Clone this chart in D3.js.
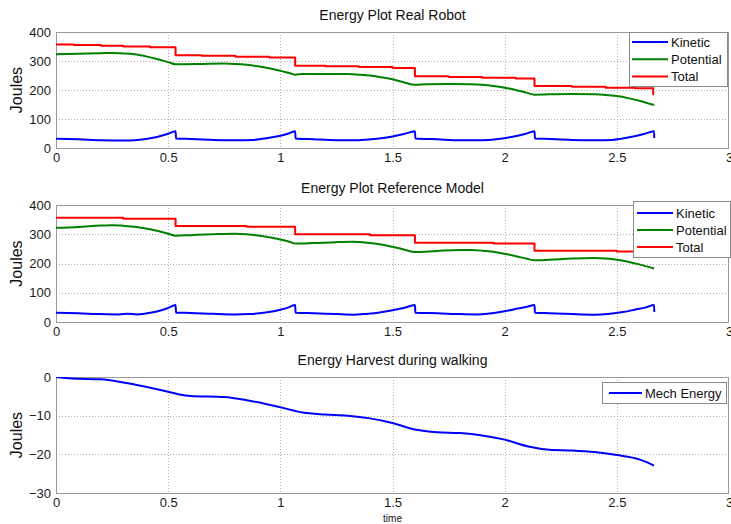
<!DOCTYPE html>
<html><head><meta charset="utf-8">
<script src="https://cdn.jsdelivr.net/npm/d3@7"></script>
<style>body{margin:0;background:#fff}svg{display:block;font-family:Arial,"Liberation Sans",sans-serif}</style>
</head><body><svg id="c" width="731" height="524"></svg>
<script>
// ---- data ----
const xTicks = [0, 0.5, 1, 1.5, 2, 2.5, 3];
const yTicksEnergy = [0, 100, 200, 300, 400];
const yTicksHarvest = [0, -10, -20, -30];
const seriesNames = ["Kinetic", "Potential", "Total"];

const realKineticT = [0,0.1,0.2,0.3,0.35,0.4,0.45,0.5,0.533,0.535,0.6,0.7,0.8,0.88,0.95,1.0,1.04,1.066,1.068,1.15,1.25,1.35,1.42,1.5,1.55,1.6,1.602,1.7,1.8,1.9,1.96,2.03,2.09,2.133,2.135,2.2,2.3,2.4,2.48,2.55,2.62,2.666,2.667];
const realKineticV = [32,30,27,26,27,31,38,49,58,33,31,28,27,28,35,42,51,58,33,30,27,27,31,40,48,58,33,30,27,27,30,38,48,58,33,31,28,27,28,36,48,58,34];

const realPotentialT = [0,0.1,0.2,0.25,0.3,0.35,0.4,0.45,0.5,0.533,0.55,0.65,0.75,0.8,0.85,0.9,0.95,1.0,1.05,1.066,1.1,1.2,1.3,1.35,1.4,1.45,1.5,1.55,1.6,1.65,1.75,1.85,1.9,1.95,2.0,2.05,2.1,2.133,2.2,2.3,2.4,2.45,2.5,2.55,2.6,2.666];
const realPotentialV = [323,325,327,328,326,323,316,307,296,289,289,290,291,290,287,282,275,266,256,253,255,255,255,253,250,244,237,227,218,220,221,220,218,214,208,200,190,184,185,186,185,183,179,172,163,148];

const realTotalT = [0,0.08,0.2,0.3,0.42,0.533,0.65,0.8,0.95,1.066,1.2,1.35,1.5,1.6,1.75,1.9,2.05,2.133,2.3,2.45,2.58,2.662,2.666];
const realTotalV = [357,355,353,350,347,320,318,315,312,284,282,279,276,247,245,242,240,214,211,208,206,185,185];

const refKineticT = [0,0.1,0.2,0.28,0.32,0.36,0.4,0.45,0.5,0.533,0.535,0.6,0.7,0.8,0.86,0.95,1.0,1.04,1.066,1.068,1.15,1.25,1.33,1.37,1.42,1.5,1.55,1.6,1.602,1.7,1.8,1.88,1.93,2.0,2.06,2.1,2.133,2.135,2.2,2.3,2.4,2.46,2.52,2.58,2.63,2.666,2.667];
const refKineticV = [32,30,27,26,28,26,29,36,48,58,32,31,28,26,27,34,42,51,58,32,30,27,25,27,30,40,48,58,32,30,27,26,29,37,46,52,58,32,30,27,25,27,33,42,50,58,34];

const refPotentialT = [0,0.1,0.2,0.25,0.3,0.35,0.4,0.45,0.5,0.533,0.6,0.7,0.8,0.85,0.9,0.95,1.0,1.05,1.066,1.15,1.25,1.32,1.4,1.45,1.5,1.55,1.6,1.7,1.8,1.85,1.9,1.95,2.0,2.05,2.1,2.133,2.2,2.3,2.4,2.45,2.5,2.55,2.6,2.666];
const refPotentialV = [322,325,330,331,329,326,320,312,302,295,297,300,302,300,296,290,282,272,268,270,273,274,270,265,257,248,239,243,246,246,244,240,233,225,216,211,213,217,219,217,213,206,197,183];

const refTotalT = [0,0.3,0.533,0.85,1.066,1.4,1.6,1.95,2.133,2.5,2.666];
const refTotalV = [356,353,328,326,300,297,271,268,244,241,241];

const mechT = [0,0.07,0.2,0.3,0.4,0.5,0.55,0.6,0.75,0.85,1.0,1.1,1.2,1.3,1.4,1.5,1.6,1.7,1.8,1.9,2.0,2.1,2.2,2.3,2.4,2.5,2.6,2.666];
const mechV = [0,-0.4,-0.6,-1.4,-2.5,-3.8,-4.5,-4.9,-5.2,-6.0,-7.8,-9.2,-9.7,-10.0,-10.7,-11.9,-13.6,-14.3,-14.5,-15.1,-16.2,-17.9,-18.8,-19.0,-19.4,-20.2,-21.3,-22.9];

// ---- drawing ----
const svg = d3.select("#c");
const colors = {Kinetic:"#0000ff", Potential:"#008000", Total:"#ff0000", Mech:"#0000ff"};
const X0 = 56, X1 = 729;

function zip(t, v){ return t.map((d,i)=>({t:d, v:v[i]})); }

function panel(cfg){
  const x = d3.scaleLinear().domain([0,3]).range([X0, X1]);
  const y = d3.scaleLinear().domain(cfg.ydom).range([cfg.bottom, cfg.top]);
  const g = svg.append("g");
  const clipId = "clip" + cfg.id;
  svg.append("clipPath").attr("id", clipId).append("rect")
    .attr("x", X0).attr("y", cfg.top).attr("width", X1 - X0).attr("height", cfg.bottom - cfg.top);
  g.append("rect").attr("x", X0).attr("y", cfg.top).attr("width", X1-X0).attr("height", cfg.bottom-cfg.top).attr("fill","#fff");
  // grid
  g.append("g").selectAll("line").data(xTicks.slice(1,-1)).join("line")
    .attr("x1", d=>Math.round(x(d))+0.5).attr("x2", d=>Math.round(x(d))+0.5).attr("y1", cfg.top).attr("y2", cfg.bottom)
    .attr("stroke","#b0b0b0").attr("stroke-width",1).attr("stroke-dasharray","1,2");
  g.append("g").selectAll("line").data(cfg.yticks.filter(d=>d!==cfg.ydom[0] && d!==cfg.ydom[1])).join("line")
    .attr("x1", X0).attr("x2", X1).attr("y1", d=>Math.round(y(d))+0.5).attr("y2", d=>Math.round(y(d))+0.5)
    .attr("stroke","#b0b0b0").attr("stroke-width",1).attr("stroke-dasharray","1,2");
  // axes via d3
  const xa = g.append("g").attr("transform", `translate(0,${cfg.bottom})`)
    .call(d3.axisBottom(x).tickValues(xTicks).tickFormat(d3.format("")).tickSize(0).tickPadding(5));
  const ya = g.append("g").attr("transform", `translate(${X0},0)`)
    .call(d3.axisLeft(y).tickValues(cfg.yticks).tickFormat(d3.format("")).tickSize(0).tickPadding(5));
  [xa, ya].forEach(a=>{
    a.select(".domain").remove();
    a.selectAll("text").attr("font-size", 13).attr("fill","#1a1a1a").attr("font-family","Arial, 'Liberation Sans', sans-serif");
  });
  // box
  g.append("rect").attr("x", X0+0.5).attr("y", cfg.top+0.5).attr("width", X1-X0-1).attr("height", cfg.bottom-cfg.top)
    .attr("fill","none").attr("stroke","#9a9a9a").attr("stroke-width",1);
  // title
  g.append("text").attr("x", (X0+X1)/2).attr("y", cfg.top - 12).attr("text-anchor","middle")
    .attr("font-size", 14).attr("fill","#111").text(cfg.title);
  // y label
  g.append("text").attr("transform", `translate(22,${(cfg.top+cfg.bottom)/2}) rotate(-90)`)
    .attr("text-anchor","middle").attr("font-size", 16).attr("fill","#111").text("Joules");
  // lines
  const lg = g.append("g").attr("clip-path", `url(#${clipId})`);
  cfg.series.forEach(s=>{
    const line = d3.line().x(d=>x(d.t)).y(d=>y(d.v)).curve(s.step ? d3.curveStepAfter : d3.curveMonotoneX);
    lg.append("path").datum(zip(s.t, s.v)).attr("d", line).attr("fill","none")
      .attr("stroke", s.color).attr("stroke-width", 2).attr("stroke-linejoin","round");
  });
  // legend
  const L = cfg.legend;
  const lgd = g.append("g");
  lgd.append("rect").attr("x", L.x+0.5).attr("y", L.y+0.5).attr("width", L.w).attr("height", L.h)
    .attr("fill","#fff").attr("stroke","#8a8a8a").attr("stroke-width",1);
  cfg.series.forEach((s,i)=>{
    const yy = L.y + L.first + i*L.dy;
    lgd.append("line").attr("x1", L.x+L.lx1).attr("x2", L.x+L.lx2).attr("y1", yy).attr("y2", yy)
      .attr("stroke", s.color).attr("stroke-width", 2);
    lgd.append("text").attr("x", L.x+L.tx).attr("y", yy).attr("dy","0.35em")
      .attr("font-size", 13).attr("fill","#111").text(s.name);
  });
  return {x, y, g};
}

panel({id:1, title:"Energy Plot Real Robot", top:32, bottom:148, ydom:[0,400], yticks:yTicksEnergy,
  series:[
    {name:seriesNames[0], color:colors.Kinetic, t:realKineticT, v:realKineticV},
    {name:seriesNames[1], color:colors.Potential, t:realPotentialT, v:realPotentialV},
    {name:seriesNames[2], color:colors.Total, t:realTotalT, v:realTotalV, step:true}
  ],
  legend:{x:629, y:32, w:98, h:54, first:10, dy:17.3, lx1:3, lx2:39, tx:42}
});

panel({id:2, title:"Energy Plot Reference Model", top:205, bottom:322, ydom:[0,400], yticks:yTicksEnergy,
  series:[
    {name:seriesNames[0], color:colors.Kinetic, t:refKineticT, v:refKineticV},
    {name:seriesNames[1], color:colors.Potential, t:refPotentialT, v:refPotentialV},
    {name:seriesNames[2], color:colors.Total, t:refTotalT, v:refTotalV, step:true}
  ],
  legend:{x:633, y:201, w:97, h:56, first:12, dy:17, lx1:4, lx2:40, tx:43}
});

panel({id:3, title:"Energy Harvest during walking", top:377, bottom:493, ydom:[-30,0], yticks:yTicksHarvest,
  series:[
    {name:"Mech Energy", color:colors.Mech, t:mechT, v:mechV}
  ],
  legend:{x:602, y:382, w:124, h:21, first:11, dy:17, lx1:7, lx2:40, tx:43}
});
svg.append("text").attr("x", (X0+X1)/2).attr("y", 522).attr("text-anchor","middle")
  .attr("font-size", 10).attr("fill","#111").text("time");
</script></body></html>
